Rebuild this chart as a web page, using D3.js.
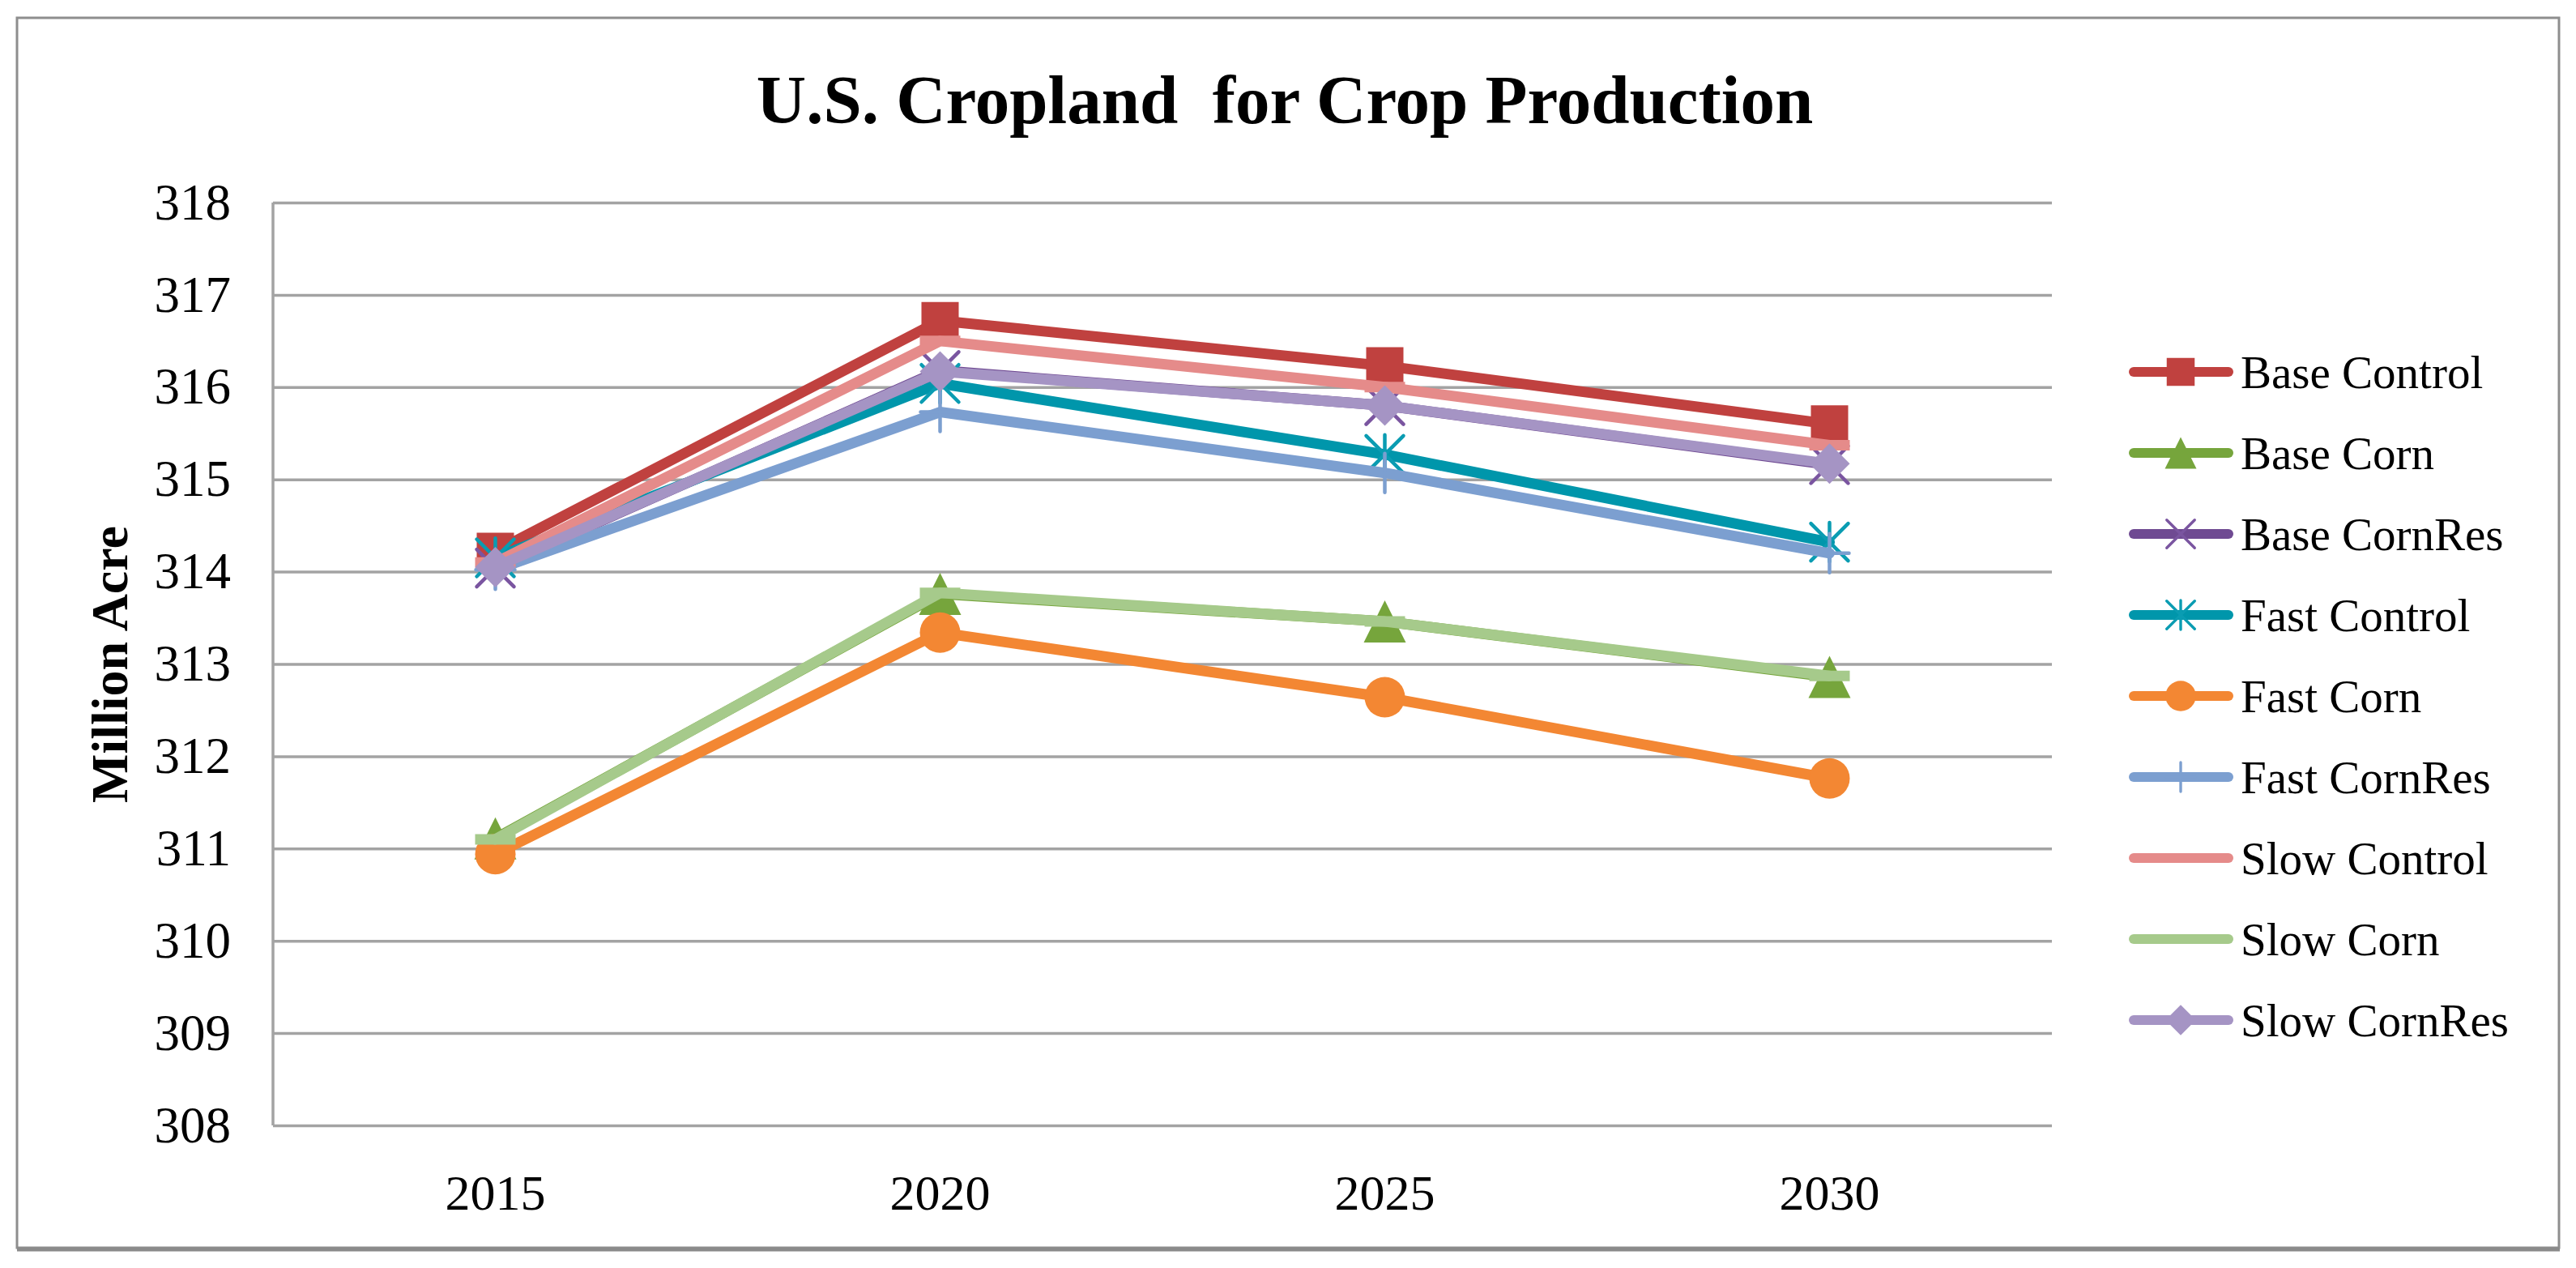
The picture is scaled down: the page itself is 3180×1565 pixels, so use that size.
<!DOCTYPE html>
<html>
<head>
<meta charset="utf-8">
<script src="https://cdn.jsdelivr.net/npm/d3@7"></script>
<style>
  html, body { margin: 0; padding: 0; background: #fff; }
  text { font-family: "Liberation Serif", "Times New Roman", serif; fill: #000; }
</style>
</head>
<body>
<svg id="chart" width="3180" height="1565"></svg>
<script>
// values (million acres)
var years = ["2015", "2020", "2025", "2030"];
var yTicks = [308, 309, 310, 311, 312, 313, 314, 315, 316, 317, 318];

var baseControl = [314.22, 316.72, 316.23, 315.60];
var baseCorn    = [311.11, 313.76, 313.46, 312.86];
var baseCornRes = [314.04, 316.18, 315.80, 315.16];
var fastControl = [314.15, 316.04, 315.27, 314.32];
var fastCorn    = [310.94, 313.34, 312.64, 311.76];
var fastCornRes = [314.02, 315.73, 315.07, 314.20];
var slowControl = [314.10, 316.50, 316.00, 315.37];
var slowCorn    = [311.10, 313.77, 313.46, 312.87];
var slowCornRes = [314.05, 316.17, 315.80, 315.17];

var series = [
  { name: "Base Control", values: baseControl, color: "#c0413f", marker: "square",   mcolor: "#c0413f" },
  { name: "Base Corn",    values: baseCorn,    color: "#76a53c", marker: "triangle", mcolor: "#76a53c" },
  { name: "Base CornRes", values: baseCornRes, color: "#6f4a92", marker: "x",        mcolor: "#7a55a0" },
  { name: "Fast Control", values: fastControl, color: "#0096ab", marker: "star",     mcolor: "#0a9cb2" },
  { name: "Fast Corn",    values: fastCorn,    color: "#f38733", marker: "circle",   mcolor: "#f38733" },
  { name: "Fast CornRes", values: fastCornRes, color: "#7c9fd0", marker: "plus",     mcolor: "#7c9fd0" },
  { name: "Slow Control", values: slowControl, color: "#e58b8a", marker: "dash",     mcolor: "#e58b8a" },
  { name: "Slow Corn",    values: slowCorn,    color: "#a6ca8b", marker: "dash",     mcolor: "#a6ca8b" },
  { name: "Slow CornRes", values: slowCornRes, color: "#a594c4", marker: "diamond",  mcolor: "#a594c4" }
];

var svg = d3.select("#chart");
var plot = { left: 337, right: 2533, top: 250, bottom: 1389 };

var x = d3.scaleBand().domain(years).range([plot.left, plot.right]);
var y = d3.scaleLinear().domain([308, 318]).range([plot.bottom, plot.top]);
var cx = function(d) { return x(d) + x.bandwidth() / 2; };

// outer frame
svg.append("rect")
  .attr("x", 21).attr("y", 22).attr("width", 3138).attr("height", 1518)
  .attr("fill", "#fff").attr("stroke", "#8e8e8e").attr("stroke-width", 3);
svg.append("line")
  .attr("x1", 21).attr("x2", 3160).attr("y1", 1542).attr("y2", 1542)
  .attr("stroke", "#8a8a8a").attr("stroke-width", 5);

// title
svg.append("text")
  .attr("x", 1586).attr("y", 152)
  .attr("text-anchor", "middle")
  .style("font-size", "85px").style("font-weight", "bold").style("white-space", "pre")
  .text("U.S. Cropland  for Crop Production");

// gridlines + y axis
var yAxis = d3.axisLeft(y).tickValues(yTicks).tickSize(-(plot.right - plot.left)).tickPadding(52);
var gy = svg.append("g").attr("transform", "translate(" + plot.left + ",0)").call(yAxis);
gy.select(".domain").remove();
gy.selectAll(".tick line").attr("stroke", "#a3a3a3").attr("stroke-width", 3.5);
gy.selectAll(".tick text")
  .style("font-size", "63px").style("font-family", "Liberation Serif").attr("fill", "#000");

svg.append("line")
  .attr("x1", plot.left).attr("x2", plot.left)
  .attr("y1", plot.top).attr("y2", plot.bottom)
  .attr("stroke", "#a3a3a3").attr("stroke-width", 3.5);

// x labels
var xAxis = d3.axisBottom(x).tickSize(0).tickPadding(60);
var gx = svg.append("g").attr("transform", "translate(0," + plot.bottom + ")").call(xAxis);
gx.select(".domain").remove();
gx.selectAll(".tick text")
  .style("font-size", "62px").style("font-family", "Liberation Serif").attr("fill", "#000");

// y axis title
svg.append("text")
  .attr("transform", "translate(157,820) rotate(-90)")
  .attr("text-anchor", "middle")
  .style("font-size", "64px").style("font-weight", "bold")
  .text("Million Acre");

function markerPath(type, s) {
  var h = s / 2;
  switch (type) {
    case "square":   return "M" + -h + "," + -h + "h" + s + "v" + s + "h" + -s + "Z";
    case "triangle": return "M0," + -h + "L" + h + "," + h + "L" + -h + "," + h + "Z";
    case "diamond":  return "M0," + -h + "L" + h + ",0L0," + h + "L" + -h + ",0Z";
    case "circle":   return d3.symbol(d3.symbolCircle, Math.PI * h * h)();
    case "dash":     return "M" + -h + "," + (-s * 0.13) + "h" + s + "v" + (s * 0.26) + "h" + -s + "Z";
    case "x":        return "M" + -h + "," + -h + "L" + h + "," + h + "M" + -h + "," + h + "L" + h + "," + -h;
    case "star":     return "M" + -h + "," + -h + "L" + h + "," + h + "M" + -h + "," + h + "L" + h + "," + -h +
                            "M0," + -h * 1.05 + "V" + h * 1.05;
    case "plus":     return "M" + -h + ",0H" + h + "M0," + -h + "V" + h;
  }
}
var stroked = { x: true, star: true, plus: true };
var markerSize = { square: 46, triangle: 52, diamond: 50, circle: 50, dash: 50, x: 46, star: 46, plus: 48 };

function drawMarker(g, s, scale) {
  var size = markerSize[s.marker] * scale;
  var p = g.append("path").attr("d", markerPath(s.marker, size));
  if (stroked[s.marker]) {
    p.attr("fill", "none").attr("stroke", s.mcolor).attr("stroke-width", 4.5 * scale)
     .attr("stroke-linecap", "round");
  } else {
    p.attr("fill", s.mcolor);
  }
  return p;
}

var line = d3.line()
  .x(function(d, i) { return cx(years[i]); })
  .y(function(d) { return y(d); });

var seriesG = svg.append("g").attr("class", "series");
series.forEach(function(s) {
  var g = seriesG.append("g");
  g.append("path")
    .attr("d", line(s.values))
    .attr("fill", "none")
    .attr("stroke", s.color)
    .attr("stroke-width", 13)
    .attr("stroke-linejoin", "round")
    .attr("stroke-linecap", "round");
  s.values.forEach(function(v, i) {
    var m = g.append("g").attr("transform", "translate(" + cx(years[i]) + "," + y(v) + ")");
    drawMarker(m, s, 1);
  });
});

// legend
var legend = svg.append("g").attr("class", "legend");
series.forEach(function(s, i) {
  var ly = 459 + i * 100;
  var row = legend.append("g").attr("transform", "translate(0," + ly + ")");
  row.append("line")
    .attr("x1", 2634).attr("x2", 2751)
    .attr("stroke", s.color).attr("stroke-width", 12).attr("stroke-linecap", "round");
  var m = row.append("g").attr("transform", "translate(2692,0)");
  drawMarker(m, s, 0.75);
  row.append("text")
    .attr("x", 2766).attr("dy", "0.35em")
    .style("font-size", "57px")
    .text(s.name);
});
</script>
</body>
</html>
